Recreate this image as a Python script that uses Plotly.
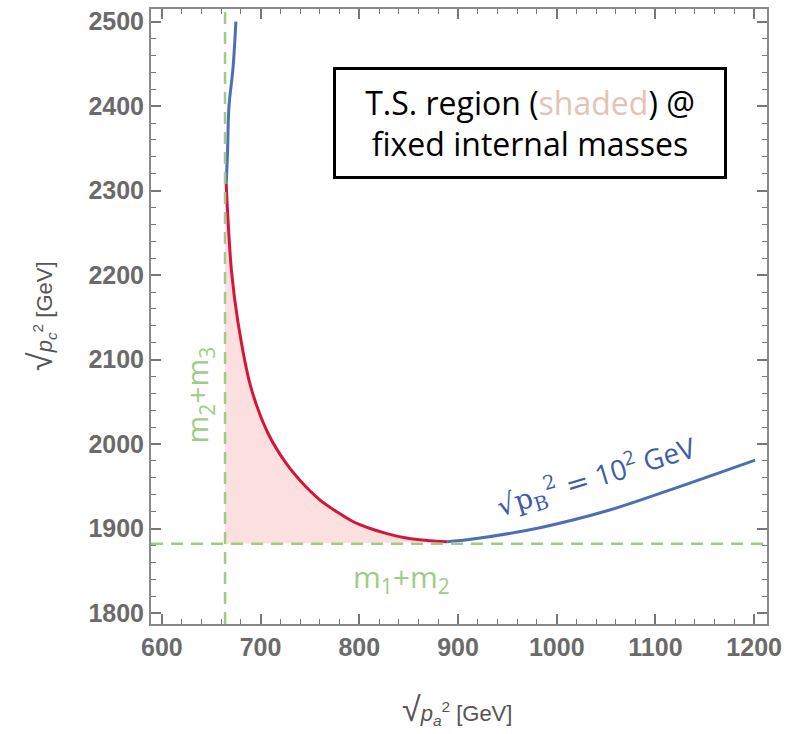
import plotly.graph_objects as go

# curve points (GeV)
blue_top_x = [675, 672, 668, 666.5, 665.2]
blue_top_y = [2500, 2444, 2400, 2345, 2308]
red_x = [665.2, 666.2, 670.6, 677, 690, 707, 726, 743, 760, 777, 794, 811, 828, 845, 861, 878, 889]
red_y = [2308, 2283, 2204, 2145, 2068, 2014, 1977, 1953, 1934, 1920, 1908, 1900, 1894, 1889.3,
         1886.6, 1885, 1884.3]
blue_right_x = [889, 915, 983, 1051, 1118, 1201]
blue_right_y = [1884.3, 1887.5, 1901, 1921, 1947, 1981]
m23 = 664     # m2+m3 threshold
m12 = 1882    # m1+m2 threshold

x_ticks = [600, 700, 800, 900, 1000, 1100, 1200]
y_ticks = [1800, 1900, 2000, 2100, 2200, 2300, 2400, 2500]

green = "#9fcb86"
red = "#d5163a"
blue = "#4d6fb3"
gray = "#6a6a6a"

fig = go.Figure()

# shaded region
fig.add_trace(go.Scatter(
    x=[m23] + red_x + [m23],
    y=[red_y[0]] + red_y + [m12],
    fill="toself", fillcolor="rgba(252,218,218,0.85)",
    line=dict(width=0, shape="spline", smoothing=1.0), mode="lines", hoverinfo="skip", showlegend=False))

# dashed threshold lines
fig.add_shape(type="line", xref="x", yref="paper", x0=m23, x1=m23, y0=0, y1=1,
              line=dict(color=green, width=2.5, dash="12px,8px"))
fig.add_shape(type="line", xref="paper", yref="y", x0=0, x1=1, y0=m12, y1=m12,
              line=dict(color=green, width=2.5, dash="12px,8px"))

fig.add_trace(go.Scatter(x=blue_top_x, y=blue_top_y, mode="lines",
                         line=dict(color=blue, width=3, shape="spline", smoothing=1.0), showlegend=False))
fig.add_trace(go.Scatter(x=red_x, y=red_y, mode="lines",
                         line=dict(color=red, width=3, shape="spline", smoothing=1.0), showlegend=False))
fig.add_trace(go.Scatter(x=blue_right_x, y=blue_right_y, mode="lines",
                         line=dict(color=blue, width=3, shape="spline", smoothing=1.0), showlegend=False))

axis_common = dict(
    showgrid=False, zeroline=False, showline=True, linecolor="#8a8a8a", linewidth=2,
    mirror="ticks", ticks="inside", ticklen=10, tickwidth=1.5, tickcolor="#777",
    tickfont=dict(family="Liberation Sans, Arial", size=25, color=gray),
)
fig.update_xaxes(range=[589, 1213], tickvals=x_ticks,
                 ticktext=[f"<b>{v}</b>" for v in x_ticks],
                 minor=dict(dtick=20, ticks="inside", ticklen=5, tickcolor="#777", tickwidth=1.2),
                 **axis_common)
fig.update_yaxes(range=[1787, 2515], tickvals=y_ticks,
                 ticktext=[f"<b>{v}</b>" for v in y_ticks],
                 minor=dict(dtick=20, ticks="inside", ticklen=5, tickcolor="#777", tickwidth=1.2),
                 **axis_common)

# axis titles as annotations
fig.add_annotation(xref="paper", yref="paper", x=(457 - 151) / 616, y=-(710 - 624) / 617,
                   xanchor="center", yanchor="middle",
                   text="<span style='font-size:34px'>√</span><i>p<sub>a</sub></i><sup>2</sup> [GeV]",
                   showarrow=False,
                   font=dict(family="Liberation Sans, Arial", size=22, color="#555"))
fig.add_annotation(xref="paper", yref="paper", x=-(151 - 40) / 616, y=1 - (315 - 7) / 617,
                   xanchor="center", yanchor="middle",
                   text="<span style='font-size:34px'>√</span><i>p<sub>c</sub></i><sup>2</sup> [GeV]",
                   showarrow=False, textangle=-90,
                   font=dict(family="Liberation Sans, Arial", size=22, color="#555"))

# threshold labels
fig.add_annotation(x=637, y=2058, text="m<sub>2</sub>+m<sub>3</sub>", showarrow=False, textangle=-90,
                   font=dict(family="Open Sans, Liberation Sans", size=30, color=green))
fig.add_annotation(x=843, y=1842, text="m<sub>1</sub>+m<sub>2</sub>", showarrow=False,
                   font=dict(family="Open Sans, Liberation Sans", size=30, color=green))

# curve label
fig.add_annotation(x=1040, y=1962,
                   text="<span style='font-family:DejaVu Serif'>√p<sub>B</sub><sup>2</sup> =</span> 10<sup>2</sup> GeV",
                   showarrow=False, textangle=-17,
                   font=dict(family="Open Sans, Liberation Sans", size=28, color="#3e5da8"))

# boxed note
fig.add_annotation(xref="paper", yref="paper", x=(530 - 151) / 616, y=1 - (121 - 7) / 617,
                   xanchor="center", yanchor="middle",
                   text="T.S. region (<span style='color:#e3c3b3'>shaded</span>) @<br>fixed internal masses",
                   showarrow=False, bgcolor="white", bordercolor="black", borderwidth=3, borderpad=8,
                   width=372, height=90,
                   font=dict(family="Open Sans, Liberation Sans", size=32, color="black"))

fig.update_layout(
    width=792, height=734, margin=dict(l=151, r=25, t=7, b=110),
    plot_bgcolor="white", paper_bgcolor="white",
)

fig.write_html("out.html")
